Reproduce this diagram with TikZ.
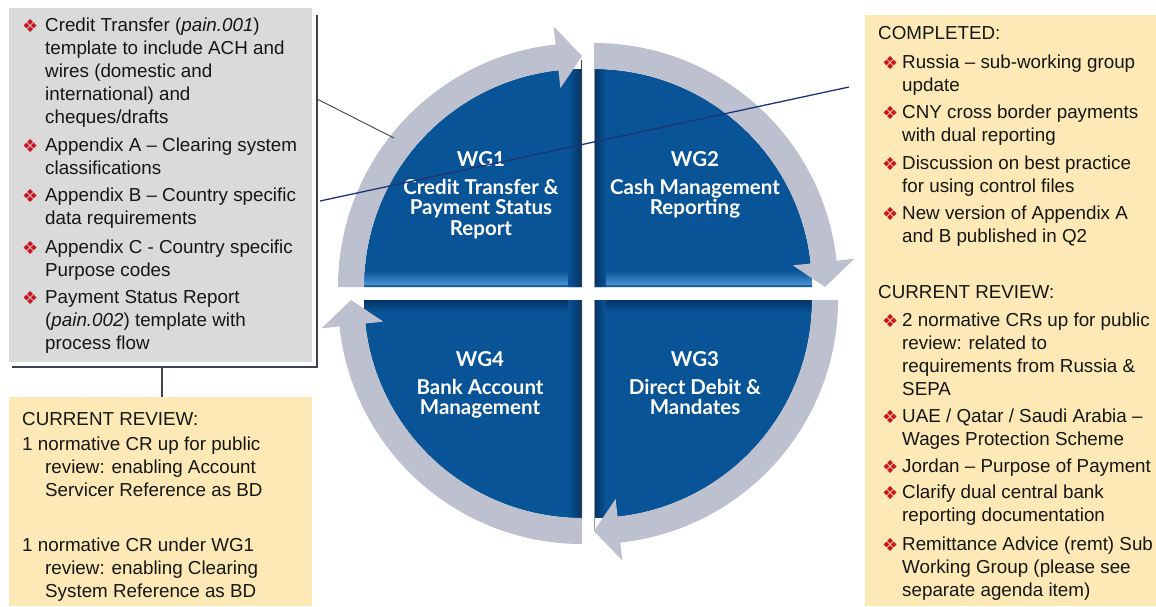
\documentclass[tikz,border=0pt]{standalone}
\usepackage{fontspec}
\setmainfont{Liberation Sans}
\newfontfamily\wgfont{Lato}
\newfontfamily\symfont{DejaVu Sans}
\usetikzlibrary{calc}
\definecolor{boxgray}{RGB}{218,218,218}
\definecolor{boxyellow}{RGB}{252,233,181}
\definecolor{ringgray}{RGB}{188,192,207}
\definecolor{qblue}{RGB}{9,84,150}
\definecolor{qlight}{RGB}{78,148,215}
\definecolor{qdark}{RGB}{5,52,100}
\definecolor{bulred}{RGB}{200,22,32}
\definecolor{txtcol}{RGB}{22,22,22}
\definecolor{brline}{RGB}{60,66,82}
\definecolor{navyline}{RGB}{28,52,118}
\newcommand{\bul}[1]{\makebox[#1][l]{\hspace*{-2pt}\raisebox{-1pt}{\textcolor{bulred}{\symfont\fontsize{18}{18}\selectfont ❖}}}}
\newcommand{\ind}[1]{\hspace*{#1}}
\begin{document}
\begin{tikzpicture}[x=1pt,y=-1pt,
  txt/.style={anchor=base west, inner sep=0pt, align=left, text=txtcol, font=\fontsize{18.8}{23}\selectfont},
  wg/.style={anchor=base, inner sep=0pt, align=center, text=white, font=\wgfont\bfseries\fontsize{20.5}{20.5}\selectfont},
  panel/.style={anchor=north west, inner sep=0pt, minimum width=#1},
  bracket/.style={draw=brline, line width=1.4pt},
  conn1/.style={draw=brline, line width=0.9pt},
  conn2/.style={draw=navyline, line width=1.3pt}]
\useasboundingbox (0,0) rectangle (1156,606);

% panels
\node[panel=303pt, fill=boxgray, minimum height=354pt] (gbox) at (9,8) {};
\node[panel=303pt, fill=boxyellow, minimum height=209pt] (ybox) at (9,397) {};
\node[panel=291pt, fill=boxyellow, minimum height=591pt] (rbox) at (865,15) {};

% bracket lines
\coordinate (bt) at (317,15);
\coordinate (bc) at (317,367);
\coordinate (bl) at (12,367);
\coordinate (bm) at (162,367);
\draw[bracket] (bt) -- (bc) -- (bl);
\draw[bracket] (bm) -- (bm |- ybox.north);

% quadrants
\foreach \cx/\cy/\a in {582/287/180, 594/287/270, 594/300/0, 582/300/90} {
  \fill[qblue] (\cx,\cy) -- ++(\a:218) arc[start angle=\a, end angle=\a+90, radius=218] -- cycle;
}
% bevel effects
\begin{scope}
  \clip (582,287) -- ++(180:218) arc[start angle=180, end angle=270, radius=218] -- cycle;
  \shade[top color=qblue, bottom color=qlight] (360,271) rectangle (582,285);
  \fill[qblue!80!qlight] (360,285) rectangle (582,287);
  \shade[left color=qblue, right color=qdark] (568,60) rectangle (582,287);
\end{scope}
\begin{scope}
  \clip (594,287) -- ++(270:218) arc[start angle=270, end angle=360, radius=218] -- cycle;
  \shade[top color=qblue, bottom color=qlight] (594,271) rectangle (815,285);
  \fill[qblue!80!qlight] (594,285) rectangle (815,287);
  \shade[left color=qdark, right color=qblue] (594,60) rectangle (606,287);
\end{scope}
\begin{scope}
  \clip (582,300) -- ++(90:218) arc[start angle=90, end angle=180, radius=218] -- cycle;
  \shade[top color=qdark, bottom color=qblue] (360,300) rectangle (582,312);
  \shade[left color=qblue, right color=qdark] (568,300) rectangle (582,520);
\end{scope}
\begin{scope}
  \clip (594,300) -- ++(0:218) arc[start angle=0, end angle=90, radius=218] -- cycle;
  \shade[top color=qdark, bottom color=qblue] (594,300) rectangle (815,312);
  \shade[left color=qdark, right color=qblue] (594,300) rectangle (606,520);
\end{scope}
\draw[black!75, line width=1.4pt] (581.3,60) -- (581.3,287);
\draw[black!75, line width=1.4pt] (581.3,300) -- (581.3,518);
\draw[black!40, line width=1pt] (594.5,43) -- (594.5,287);
\draw[black!40, line width=1pt] (594.5,300) -- (594.5,530);

% ring arrows
\foreach \cx/\cy/\a in {582/287/180, 594/287/270, 594/300/0, 582/300/90} {
  \fill[ringgray] ($(\cx,\cy)+(\a:244)$) arc[start angle=\a, end angle=\a+83.8, radius=244]
    -- ($(\cx,\cy)+(\a+83.8:262)$) -- ($(\cx,\cy)+(\a+90:231)$)
    -- ($(\cx,\cy)+(\a+83.8:200)$) -- ($(\cx,\cy)+(\a+83.8:218)$)
    arc[start angle=\a+83.8, end angle=\a, radius=218] -- cycle;
}

% circle labels (anchored at the baseline of their last line)
\node[wg] (wg1) at (481,235) {WG1\\[7pt]Credit Transfer \&\\Payment Status\\Report};
\node[wg] (wg2) at (695,214.5) {WG2\\[7pt]Cash Management\\Reporting};
\node[wg] (wg4) at (480,414.5) {WG4\\[7pt]Bank Account\\Management};
\node[wg] (wg3) at (695,414.5) {WG3\\[7pt]Direct Debit \&\\Mandates};

% connectors
\coordinate (c1a) at (317,99);
\coordinate (c1b) at (394,138);
\draw[conn1] (c1a) -- (c1b);
\coordinate (c2a) at (320,201);
\coordinate (c2b) at (849,87);
\draw[conn2] (c2a) -- (c2b);

% gray box text (anchored at the baseline of their last line)
\node[txt] (g1) at (24,123) {\bul{21pt}Credit Transfer (\textit{pain.001})\\\ind{21pt}template to include ACH and\\\ind{21pt}wires (domestic and\\\ind{21pt}international) and\\\ind{21pt}cheques/drafts};
\node[txt] (g2) at (24,174.5) {\bul{21pt}Appendix A – Clearing system\\\ind{21pt}classifications};
\node[txt] (g3) at (24,224.5) {\bul{21pt}Appendix B – Country specific\\\ind{21pt}data requirements};
\node[txt] (g4) at (24,276) {\bul{21pt}Appendix C - Country specific\\\ind{21pt}Purpose codes};
\node[txt] (g5) at (24,349) {\bul{21pt}Payment Status Report\\\ind{21pt}(\textit{pain.002}) template with\\\ind{21pt}process flow};

% bottom-left yellow text
\node[txt] (y0) at (22,425) {CURRENT REVIEW:};
\node[txt] (y1) at (22,496) {1 normative CR up for public\\\ind{23pt}review: enabling Account\\\ind{23pt}Servicer Reference as BD};
\node[txt] (y2) at (22,597) {1 normative CR under WG1\\\ind{23pt}review: enabling Clearing\\\ind{23pt}System Reference as BD};

% right yellow text
\node[txt] (r0) at (878,39.5) {COMPLETED:};
\node[txt] (r1) at (884,91.5) {\bul{18pt}Russia – sub-working group\\\ind{18pt}update};
\node[txt] (r2) at (884,141) {\bul{18pt}CNY cross border payments\\\ind{18pt}with dual reporting};
\node[txt] (r3) at (884,192) {\bul{18pt}Discussion on best practice\\\ind{18pt}for using control files};
\node[txt] (r4) at (884,242) {\bul{18pt}New version of Appendix A\\\ind{18pt}and B published in Q2};
\node[txt] (r5) at (878,298) {CURRENT REVIEW:};
\node[txt] (r6) at (884,395) {\bul{18pt}2 normative CRs up for public\\\ind{18pt}review: related to\\\ind{18pt}requirements from Russia \&\\\ind{18pt}SEPA};
\node[txt] (r7) at (884,445) {\bul{18pt}UAE / Qatar / Saudi Arabia –\\\ind{18pt}Wages Protection Scheme};
\node[txt] (r8) at (884,472) {\bul{18pt}Jordan – Purpose of Payment};
\node[txt] (r9) at (884,521) {\bul{18pt}Clarify dual central bank\\\ind{18pt}reporting documentation};
\node[txt] (r10) at (884,596) {\bul{18pt}Remittance Advice (remt) Sub\\\ind{18pt}Working Group (please see\\\ind{18pt}separate agenda item)};
\end{tikzpicture}
\end{document}
